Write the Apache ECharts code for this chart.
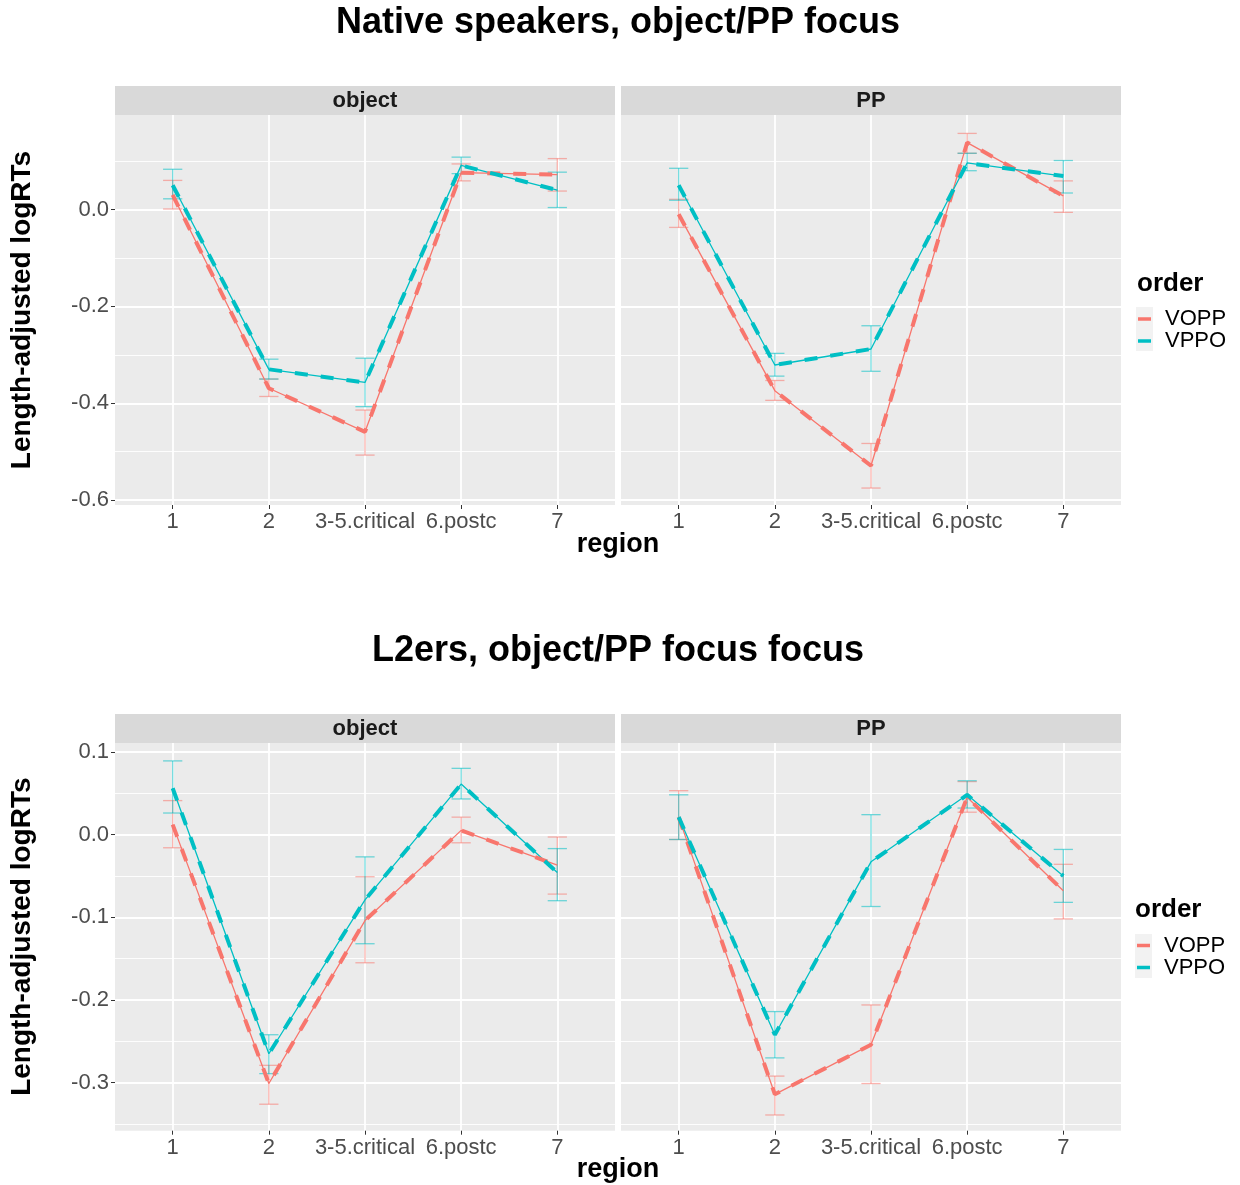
<!DOCTYPE html>
<html><head><meta charset="utf-8">
<script src="https://cdn.jsdelivr.net/npm/echarts@6/dist/echarts.min.js"></script>
<style>html,body{margin:0;padding:0;background:#fff}#c{width:1240px;height:1185px}</style>
</head><body><div id="c"></div>
<script>
// ---------- data ----------
const categories = ['1', '2', '3-5.critical', '6.postc', '7'];
const orders = ['VOPP', 'VPPO'];
const facets = ['object', 'PP'];

// Native speakers, object facet
const natObjVOPP    = [0.030, -0.369, -0.459, 0.076, 0.072];
const natObjVOPPlo  = [0.001, -0.386, -0.507, 0.059, 0.038];
const natObjVOPPhi  = [0.060, -0.350, -0.414, 0.094, 0.105];
const natObjVPPO    = [0.050, -0.330, -0.357, 0.091, 0.040];
const natObjVPPOlo  = [0.022, -0.350, -0.407, 0.074, 0.004];
const natObjVPPOhi  = [0.083, -0.309, -0.307, 0.108, 0.077];
// Native speakers, PP facet
const natPPVOPP     = [-0.010, -0.374, -0.529, 0.138, 0.028];
const natPPVOPPlo   = [-0.037, -0.394, -0.575, 0.116, -0.006];
const natPPVOPPhi   = [0.021, -0.353, -0.483, 0.157, 0.059];
const natPPVPPO     = [0.050, -0.321, -0.288, 0.096, 0.069];
const natPPVPPOlo   = [0.019, -0.344, -0.334, 0.080, 0.034];
const natPPVPPOhi   = [0.085, -0.297, -0.240, 0.116, 0.101];
// L2ers, object facet
const l2ObjVOPP     = [0.012, -0.301, -0.104, 0.005, -0.037];
const l2ObjVOPPlo   = [-0.016, -0.326, -0.155, -0.010, -0.072];
const l2ObjVOPPhi   = [0.041, -0.279, -0.051, 0.021, -0.003];
const l2ObjVPPO     = [0.056, -0.265, -0.079, 0.061, -0.046];
const l2ObjVPPOlo   = [0.026, -0.289, -0.132, 0.043, -0.080];
const l2ObjVPPOhi   = [0.089, -0.242, -0.027, 0.080, -0.017];
// L2ers, PP facet
const l2PPVOPP      = [0.021, -0.314, -0.254, 0.045, -0.068];
const l2PPVOPPlo    = [-0.006, -0.339, -0.301, 0.027, -0.102];
const l2PPVOPPhi    = [0.053, -0.292, -0.206, 0.064, -0.036];
const l2PPVPPO      = [0.021, -0.242, -0.033, 0.048, -0.050];
const l2PPVPPOlo    = [-0.006, -0.270, -0.087, 0.032, -0.082];
const l2PPVPPOhi    = [0.048, -0.214, 0.024, 0.065, -0.018];

// tick labels
const natMajorTicks = [-0.6, -0.4, -0.2, 0.0];
const natMinorTicks = [-0.5, -0.3, -0.1, 0.1];
const l2MajorTicks  = [-0.3, -0.2, -0.1, 0.0, 0.1];
const l2MinorTicks  = [-0.35, -0.25, -0.15, -0.05, 0.05];
const xTickPositions = [1, 2, 3, 4, 5];

const titleNative = 'Native speakers, object/PP focus';
const titleL2 = 'L2ers, object/PP focus focus';
const yTitle = 'Length-adjusted logRTs';
const xTitle = 'region';
const legendTitle = 'order';

// ---------- styling / layout ----------
const FONT = '"Liberation Sans", Arial, Helvetica, sans-serif';
const colors = { VOPP: '#F8766D', VPPO: '#00BFC4' };
const errColors = { VOPP: 'rgba(248,118,109,0.55)', VPPO: 'rgba(0,191,196,0.55)' };

const panels = [
  { left: 115, top: 115, width: 500, height: 390, ymin: -0.610, ymax: 0.195, major: natMajorTicks, minor: natMinorTicks, isLeft: true,
    d: { VOPP: [natObjVOPP, natObjVOPPlo, natObjVOPPhi], VPPO: [natObjVPPO, natObjVPPOlo, natObjVPPOhi] } },
  { left: 621, top: 115, width: 500, height: 390, ymin: -0.610, ymax: 0.195, major: natMajorTicks, minor: natMinorTicks, isLeft: false,
    d: { VOPP: [natPPVOPP, natPPVOPPlo, natPPVOPPhi], VPPO: [natPPVPPO, natPPVPPOlo, natPPVPPOhi] } },
  { left: 115, top: 742.7, width: 500, height: 388, ymin: -0.358, ymax: 0.111, major: l2MajorTicks, minor: l2MinorTicks, isLeft: true,
    d: { VOPP: [l2ObjVOPP, l2ObjVOPPlo, l2ObjVOPPhi], VPPO: [l2ObjVPPO, l2ObjVPPOlo, l2ObjVPPOhi] } },
  { left: 621, top: 742.7, width: 500, height: 388, ymin: -0.358, ymax: 0.111, major: l2MajorTicks, minor: l2MinorTicks, isLeft: false,
    d: { VOPP: [l2PPVOPP, l2PPVOPPlo, l2PPVOPPhi], VPPO: [l2PPVPPO, l2PPVPPOlo, l2PPVPPOhi] } }
];

function errRender(color) {
  return function (params, api) {
    const x = api.value(0);
    const a = api.coord([x, api.value(1)]);
    const b = api.coord([x, api.value(2)]);
    const hw = api.size([0.1, 0])[0];
    const st = { stroke: color, lineWidth: 1.3, fill: null };
    return {
      type: 'group',
      children: [
        { type: 'line', shape: { x1: a[0], y1: a[1], x2: b[0], y2: b[1] }, style: st },
        { type: 'line', shape: { x1: a[0] - hw, y1: a[1], x2: a[0] + hw, y2: a[1] }, style: st },
        { type: 'line', shape: { x1: b[0] - hw, y1: b[1], x2: b[0] + hw, y2: b[1] }, style: st }
      ]
    };
  };
}

const grid = [], xAxis = [], yAxis = [], series = [];
panels.forEach((p, k) => {
  grid.push({ left: p.left, top: p.top, width: p.width, height: p.height, show: true,
    backgroundColor: '#EBEBEB', borderWidth: 0, containLabel: false });
  xAxis.push({
    type: 'value', gridIndex: k, min: 0.4, max: 5.6, position: 'bottom',
    axisLine: { show: false, onZero: false },
    axisTick: { show: true, customValues: xTickPositions, length: 4, lineStyle: { color: '#333333', width: 1 } },
    axisLabel: { show: true, customValues: xTickPositions, formatter: v => categories[Math.round(v) - 1],
      color: '#4D4D4D', fontSize: 22, fontFamily: FONT, margin: 6 },
    splitLine: { show: true, lineStyle: { color: '#FFFFFF', width: 1.8 } },
    minorSplitLine: { show: false }
  });
  yAxis.push({
    type: 'value', gridIndex: k, min: p.ymin, max: p.ymax, position: 'left',
    axisLine: { show: false, onZero: false },
    axisTick: { show: p.isLeft, customValues: p.major, length: 4, lineStyle: { color: '#333333', width: 1 } },
    axisLabel: { show: p.isLeft, customValues: p.major, formatter: v => v.toFixed(1),
      color: '#4D4D4D', fontSize: 22, fontFamily: FONT, margin: 6 },
    splitLine: { show: true, lineStyle: { color: '#FFFFFF', width: 1.8 } },
    name: p.isLeft ? yTitle : '', nameLocation: 'middle', nameRotate: 90, nameGap: 79,
    nameTextStyle: { fontSize: 28, fontWeight: 'bold', color: '#000', fontFamily: FONT }
  });
  yAxis.push({
    type: 'value', gridIndex: k, min: p.ymin, max: p.ymax, position: 'left',
    axisLine: { show: false, onZero: false },
    axisTick: { show: false, customValues: p.minor },
    axisLabel: { show: false, customValues: p.minor },
    splitLine: { show: true, lineStyle: { color: '#FFFFFF', width: 0.9 } }
  });
  orders.forEach(o => {
    const [vals, lo, hi] = p.d[o];
    series.push({
      type: 'custom', name: o + ' error', xAxisIndex: k, yAxisIndex: 2 * k,
      data: categories.map((c, i) => [i + 1, lo[i], hi[i]]),
      encode: { x: 0, y: [1, 2] }, renderItem: errRender(errColors[o]), z: 2, silent: true
    });
  });
  orders.forEach(o => {
    const vals = p.d[o][0];
    const pts = categories.map((c, i) => [i + 1, vals[i]]);
    series.push({
      type: 'line', name: o, xAxisIndex: k, yAxisIndex: 2 * k, data: pts, symbol: 'none',
      itemStyle: { color: colors[o] }, lineStyle: { color: colors[o], width: 1.3 }, z: 3, silent: true
    });
    series.push({
      type: 'line', name: o, xAxisIndex: k, yAxisIndex: 2 * k, data: pts, symbol: 'none',
      itemStyle: { color: colors[o] }, lineStyle: { color: colors[o], width: 4, type: [13, 13] }, z: 4, silent: true
    });
  });
});

function txt(text, x, y, font, fill, align) {
  return { type: 'text', x: x, y: y, z: 10,
    style: { text: text, font: font, fill: fill || '#000', align: align || 'center', verticalAlign: 'middle' } };
}
const graphics = [];
// strips
[[115, 86], [621, 86], [115, 714], [621, 714]].forEach((s, i) => {
  graphics.push({ type: 'rect', shape: { x: s[0], y: s[1], width: 500, height: 29 }, style: { fill: '#D9D9D9' }, z: 5 });
  graphics.push(txt(facets[i % 2], s[0] + 250, s[1] + 14.5, 'bold 22px ' + FONT, '#1A1A1A'));
});
graphics.push(txt(titleNative, 618, 23, 'bold 36px ' + FONT));
graphics.push(txt(titleL2, 618, 651, 'bold 36px ' + FONT));
graphics.push(txt(xTitle, 618, 545, 'bold 27px ' + FONT));
graphics.push(txt(xTitle, 618, 1170, 'bold 27px ' + FONT));
graphics.push(txt(legendTitle, 1137, 284, 'bold 26px ' + FONT, '#000', 'left'));
graphics.push(txt(legendTitle, 1135, 910, 'bold 26px ' + FONT, '#000', 'left'));
graphics.push({ type: 'rect', shape: { x: 1136, y: 307, width: 17, height: 44 }, style: { fill: '#F2F2F2' }, z: 1 });
graphics.push({ type: 'rect', shape: { x: 1135, y: 934, width: 17, height: 44 }, style: { fill: '#F2F2F2' }, z: 1 });

const legendBase = {
  data: orders, orient: 'vertical', icon: 'rect', itemWidth: 13, itemHeight: 3.5, itemGap: 0,
  selectedMode: false,
  textStyle: { fontSize: 22, color: '#000', fontFamily: FONT, lineHeight: 22, padding: [0, 0, 0, 9] }
};

const chart = echarts.init(document.getElementById('c'), null, { renderer: 'canvas' });
chart.setOption({
  animation: false,
  backgroundColor: '#FFFFFF',
  grid: grid, xAxis: xAxis, yAxis: yAxis, series: series,
  legend: [
    Object.assign({}, legendBase, { left: 1133, top: 303, padding: 5 }),
    Object.assign({}, legendBase, { left: 1132, top: 929.5, padding: 5 })
  ],
  graphic: { elements: graphics }
});
</script>
</body></html>
